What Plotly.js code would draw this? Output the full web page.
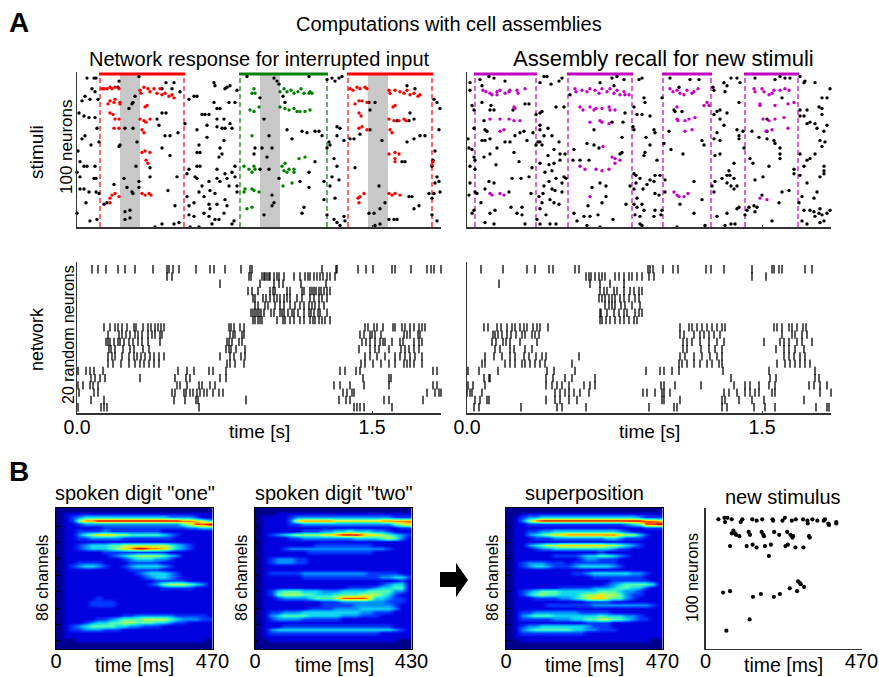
<!DOCTYPE html>
<html><head><meta charset="utf-8">
<script src="https://cdn.plot.ly/plotly-3.0.0.min.js"></script>
<style>html,body{margin:0;padding:0;background:#fff}#c{width:879px;height:677px}</style>
</head><body><div id="c"></div>
<script>
// time bins of the rasters (295 bins = 1.5 s)
const SEC_PER_BIN = 1.5/295;
const RASTER_BINS = 364;

// ---- upper left raster: stimuli, [bin, neuron]
const stimABlack = [[10,98],[17,98],[19,98],[15,91],[18,89],[5,83],[8,86],[13,84],[21,84],[2,75],[7,73],[12,72],[18,72],[20,65],[5,58],[8,60],[22,56],[14,54],[1,50],[3,43],[7,40],[10,40],[18,40],[0,36],[3,33],[17,32],[19,32],[3,25],[7,25],[12,23],[19,23],[22,22],[9,16],[0,9],[13,4],[20,5],
[42,96],[62,99],[41,92],[55,81],[56,82],[52,78],[58,86],[89,95],[97,95],[85,91],[95,91],[103,89],[85,75],[89,75],[80,71],[82,67],[101,62],[93,60],[88,60],[48,65],[56,65],[43,54],[42,53],[60,56],[85,52],[93,47],[59,40],[73,39],[100,33],[73,33],[47,32],[62,30],[37,28],[50,26],[62,26],[56,22],[55,23],[91,24],[98,14],[27,15],[30,16],[53,11],[48,10],[53,6],[48,5],[102,3],[97,2],[85,2],[78,0],
[117,86],[112,84],[120,86],[137,95],[138,93],[153,93],[148,91],[150,92],[160,90],[158,82],[152,82],[137,82],[140,78],[143,78],[125,74],[128,74],[132,74],[147,71],[140,71],[108,68],[130,67],[140,66],[145,65],[148,65],[153,68],[155,65],[120,64],[130,59],[147,57],[122,54],[120,49],[123,49],[143,52],[145,48],[142,46],[120,40],[112,38],[123,40],[140,38],[158,40],[155,36],[148,35],[118,33],[120,32],[110,35],[140,32],[158,33],[150,32],[143,30],[125,27],[132,30],[152,27],[160,27],[122,23],[133,24],[160,23],[110,20],[127,20],[138,22],[148,18],[132,15],[140,15],[117,16],[112,14],[150,14],[133,12],[112,8],[117,7],[127,9],[147,9],[132,7],[138,5],[142,5],[157,4],[155,2],[135,2],[122,0],[113,0],
[170,99],[197,98],[200,96],[202,94],[232,99],[183,85],[208,82],[206,86],[187,71],[192,60],[210,64],[215,58],[225,63],[230,62],[238,63],[242,63],[245,60],[178,52],[185,52],[195,52],[177,48],[190,46],[183,38],[192,38],[238,43],[232,36],[223,30],[232,26],[202,32],[195,21],[197,16],[195,14],[227,13],[225,9],[187,8],[247,18],[247,30],
[250,97],[255,98],[258,96],[262,98],[265,99],[250,52],[253,54],[257,45],[260,40],[260,66],[263,65],[260,60],[252,56],[262,31],[253,27],[258,19],[250,8],[257,5],[260,3],[263,1],[268,4],[267,7],[255,33],[267,57],
[298,82],[292,82],[330,93],[338,91],[293,77],[320,70],[333,75],[332,70],[337,71],[277,58],[273,58],[283,61],[293,64],[305,57],[330,56],[337,58],[348,60],[343,60],[278,39],[325,43],[328,43],[302,27],[297,9],[292,9],[303,12],[308,16],[303,2],[298,1],[312,5],[317,5],[320,5],[332,20],[335,20],[342,14],[337,12],[352,22],
[357,84],[360,82],[363,78],[362,64],[358,50],[356,44],[355,40],[360,33],[358,29],[362,30],[357,22],[363,23],[355,19],[360,4],[355,8]];
const stimARed = [[25,91],[27,91],[30,91],[33,92],[35,91],[38,92],[42,91],[63,90],[64,88],[67,92],[71,91],[73,89],[77,91],[80,88],[83,91],[85,87],[88,88],[92,86],[95,87],[97,85],
[31,81],[33,83],[37,82],[38,84],[43,81],[43,82],[68,79],[70,80],[33,75],[36,74],[38,71],[42,71],[63,71],[67,70],[69,69],[73,71],[37,65],[42,65],[65,64],[67,62],[65,49],[68,50],[73,49],[69,44],[71,42],[33,16],[33,19],[35,21],[38,22],[42,20],[65,22],[68,21],[72,22],[74,21],
[273,91],[276,90],[280,92],[283,91],[288,92],[290,91],[312,90],[313,88],[318,90],[323,89],[327,88],[330,90],[333,87],[337,88],[341,86],[343,87],[278,81],[282,83],[285,83],[290,82],[316,79],[318,80],[282,75],[284,73],[312,71],[317,70],[322,70],[327,71],[329,70],[282,65],[285,66],[290,64],[313,64],[315,62],[312,48],[318,49],[322,48],[318,45],[318,43],[282,16],[281,19],[283,20],[287,22],[312,22],[315,21],[318,22],[323,21],[355,41],[356,43]];
const stimAGreen = [[177,91],[178,88],[175,88],[203,89],[207,91],[210,89],[214,90],[217,88],[221,89],[224,91],[227,88],[232,88],[233,89],[235,88],[173,77],[177,76],[182,79],[203,79],[208,78],[212,77],[217,78],[220,76],[223,76],[228,76],[233,77],[175,60],[167,40],[172,38],[177,40],[178,38],[175,36],[205,40],[208,42],[207,37],[212,38],[210,36],[217,38],[217,36],[222,45],[228,46],[167,23],[168,25],[175,25],[177,24],[182,23],[206,27],[215,29],[170,12],[175,13]];

// ---- upper right raster: stimuli
const stimBBlack = [[3,95],[3,90],[5,80],[7,77],[7,65],[1,58],[2,52],[5,51],[7,46],[8,44],[8,38],[3,40],[3,29],[2,21],[8,23],[7,11],[5,9],
[13,97],[22,99],[27,98],[15,93],[38,96],[15,82],[24,80],[27,77],[23,77],[46,77],[58,81],[62,81],[17,70],[18,64],[20,63],[15,57],[18,57],[23,58],[38,56],[43,56],[48,60],[53,62],[57,63],[66,62],[60,57],[30,52],[47,49],[23,48],[17,46],[52,43],[29,41],[65,39],[45,32],[54,32],[62,33],[22,30],[27,29],[18,25],[42,23],[10,22],[14,16],[44,13],[55,13],[23,9],[28,11],[50,9],[55,8],[18,3],[27,2],[58,2],[64,22],
[77,99],[80,99],[73,95],[84,94],[92,96],[95,98],[75,76],[73,75],[69,74],[89,79],[97,79],[73,67],[81,65],[73,64],[77,60],[71,56],[73,56],[75,54],[92,56],[85,60],[69,54],[87,51],[81,47],[93,48],[98,48],[73,42],[82,41],[87,42],[93,44],[78,36],[85,37],[97,33],[99,32],[89,32],[82,30],[95,29],[77,27],[85,25],[88,24],[95,23],[76,22],[72,20],[83,18],[92,15],[87,16],[75,16],[73,12],[79,8],[70,5],[73,2],[83,2],[89,2],
[133,95],[145,98],[150,99],[157,97],[147,93],[103,87],[127,64],[120,55],[127,54],[132,52],[107,51],[155,59],[155,49],[153,48],[106,44],[113,44],[122,44],[125,26],[133,29],[139,27],[139,20],[135,16],[121,14],[159,15],[107,9],[117,7],[123,7],[131,8],[146,5],[110,4],[120,1],[133,0],[158,75],[156,69],[145,69],
[172,97],[175,98],[167,79],[170,74],[175,74],[183,73],[177,85],[178,82],[166,66],[167,64],[187,64],[188,62],[179,59],[183,54],[178,49],[177,47],[190,44],[167,35],[169,34],[173,32],[188,34],[193,34],[183,31],[187,30],[180,28],[169,29],[163,27],[167,25],[176,25],[188,22],[192,21],[170,19],[167,15],[170,13],[175,15],[177,11],[188,11],[195,11],[194,8],[168,8],[173,7],[187,7],[173,2],[175,1],
[203,98],[212,92],[223,97],[232,97],[195,85],[207,77],[208,76],[215,76],[202,63],[235,57],[237,54],[197,55],[204,51],[216,48],[198,31],[227,30],[198,23],[235,18],[213,15],[227,9],[210,0],[238,1],
[246,92],[247,90],[257,95],[260,93],[264,98],[270,98],[258,89],[273,95],[272,82],[250,76],[247,74],[253,71],[260,75],[253,77],[257,67],[250,62],[272,60],[276,63],[253,57],[247,58],[272,58],[270,64],[277,52],[248,47],[253,48],[267,42],[262,37],[260,34],[263,34],[255,32],[248,30],[267,32],[245,27],[260,29],[264,27],[270,27],[247,23],[267,25],[250,7],[270,12],[272,13],[260,9],[278,8],[258,1],[264,2],[268,2],
[288,98],[308,97],[313,99],[318,98],[323,98],[315,85],[300,71],[285,63],[300,63],[292,59],[300,58],[307,57],[308,55],[313,52],[313,48],[313,45],[283,45],[286,42],[302,40],[296,33],[288,31],[327,38],[327,35],[315,23],[322,24],[295,21],[312,16],[282,13],[287,14],[290,13],[280,11],[288,10],[305,4],
[333,99],[337,95],[348,95],[338,96],[352,79],[355,78],[360,85],[355,85],[363,91],[333,77],[340,77],[333,73],[337,73],[343,69],[340,68],[348,68],[355,74],[350,65],[360,67],[357,63],[353,57],[358,56],[355,53],[333,48],[340,44],[343,45],[348,48],[357,40],[357,37],[357,35],[353,33],[337,40],[333,34],[340,29],[350,23],[335,20],[347,19],[332,16],[337,11],[343,11],[347,10],[353,12],[352,9],[348,7],[355,8],[360,9],[363,11],[335,4],[340,2],[353,3],[357,4]];
const stimBMagenta = [[16,90],[19,89],[23,88],[25,87],[30,89],[33,90],[30,87],[38,88],[42,89],[43,90],[50,90],[51,88],[58,91],[47,79],[48,78],[23,71],[33,71],[42,71],[47,70],[53,70],[33,63],[37,64],[23,22],[25,21],[33,22],[37,21],
[108,91],[109,89],[115,90],[120,89],[123,91],[128,90],[132,88],[135,91],[140,89],[143,91],[147,88],[150,90],[153,87],[157,89],[158,87],[162,87],[113,79],[116,77],[123,79],[127,77],[129,78],[135,78],[142,79],[143,77],[148,77],[123,69],[133,70],[135,69],[142,68],[136,53],[145,46],[148,45],[148,42],[153,44],[113,40],[118,38],[129,38],[135,37],[142,38],[123,20],
[203,91],[206,89],[210,90],[213,88],[217,87],[220,90],[225,88],[227,89],[231,91],[210,79],[240,82],[237,80],[242,80],[210,71],[211,70],[218,70],[222,71],[228,72],[218,63],[225,64],[207,23],[210,21],[212,20],[217,20],[221,22],
[287,91],[288,89],[295,91],[297,89],[302,87],[305,88],[307,90],[313,90],[318,91],[322,90],[293,81],[293,80],[308,80],[321,81],[327,82],[296,71],[302,70],[308,71],[317,72],[299,63],[305,64],[321,65],[293,19],[300,18]];

// stimulus windows in bins: [start, end]
const stimAWindows = [[23,107],[163,250],[271,355]];
const stimAColours = ["#ff0000","#008000","#ff0000"];
const stimAGaps = [[43,63],[183,203],[291,311]];
const stimBWindows = [[8,69],[101,165],[196,244],[278,331]];

// ---- lower rasters, one list of spike bins per row, top row first
const netA = [
[15,21,29,41,48,58,76,90,92,96,102,119,133,137,148,164,173,175,245,259,260,281,289,296,315,318,334,350,354,357,364],
[90,95,172,174,185,187,188,190,192,193,197,200,202,207,217,223,228,231,233,237,240,243,246,250,253,258],
[143,183,197,202,206,224,249],
[171,175,181,193,196,198,210,213,225,227,233,235,237,239,242,244,247,250,253],
[176,178,186,189,193,197,200,203,207,210,213,220,225,233,237,242,245,250],
[178,181,188,191,198,203,207,213,218,223,227,232,235,238,242,247],
[174,176,178,180,182,184,187,194,197,203,205,207,211,215,217,221,227,232,234,237,241,243,250],
[176,178,181,183,185,200,206,208,213,217,223,227,233,236,238,242,245,248,253],
[27,33,38,41,45,50,57,59,66,71,74,78,81,84,87,152,154,157,163,167,288,291,297,300,306,316,318,325,328,333,337,342,345,348],
[31,42,45,49,53,58,61,65,71,75,78,83,85,153,156,158,165,167,283,287,293,295,298,304,327,330,333,341,343],
[29,31,33,37,41,43,47,52,56,61,65,71,83,150,152,155,162,165,285,289,293,298,303,306,308,315,323,326,337,342,345],
[32,34,38,46,53,57,66,72,149,152,154,159,168,282,293,298,302,312,324,328,332,337,342],
[31,35,38,45,52,57,60,64,68,73,77,82,87,143,153,157,164,168,288,293,300,308,318,323,328,333,338,345],
[31,36,44,52,58,63,67,72,77,82,150,153,158,167,284,288,296,304,312,318,327,330,333,337,345],
[1,9,13,17,26,101,110,117,132,136,149,263,268,279,283,356,360],
[14,18,23,28,63,98,109,113,143,149,286,312,314],
[1,6,13,16,21,100,103,110,122,125,133,138,257,263,273,287,312,356,360],
[2,17,21,95,98,107,109,113,116,120,123,127,130,136,142,146,266,270,275,277,350,358,362,364],
[14,27,97,108,119,121,169,262,269,273,307,312,346],
[1,24,27,30,122,277,280,283,287,315]];
const netB = [
[14,36,60,68,82,86,108,112,181,183,186,196,206,211,239,244,257,285,305,307,312,315,338,345],
[119,122,124,128,132,135,138,148,152,157,162,165,170,175,182,187,285,299],
[32,123,133,143,157],
[133,137,140,147,150,157,163,167,172,175],
[132,135,138,142,145,148,153,157,162,168,172],
[138,142,145,148,154,158,165,173],
[133,134,140,147,152,157,160,168,172,175],
[133,135,139,143,148,153,157,162,167,170],
[17,21,30,34,40,45,48,53,57,60,66,70,73,81,213,222,225,230,235,240,245,250,255,258,307,310,315,322,325,330,336,339],
[26,28,31,35,40,44,49,55,58,65,68,72,213,217,227,233,237,242,247,253,315,325,328,335,340],
[25,29,36,39,43,53,70,216,220,225,233,242,250,257,297,313,317,322,330,335,345],
[28,33,43,47,58,65,216,220,234,242,248,255,309,317,322,328,337],
[18,27,35,43,48,57,62,69,75,79,112,213,218,227,235,243,250,255,317,322,327,333,338],
[15,18,38,43,48,55,58,63,68,73,78,105,212,215,220,227,233,240,245,252,255,310,318,323,328,333,338,343],
[1,12,31,80,87,108,179,193,197,205,212,256,302,348],
[17,22,23,79,86,98,105,128,264,303,309,348,352],
[1,6,18,79,85,90,95,102,117,123,128,194,197,208,234,267,278,283,292,302,308,342,347,353,360],
[0,3,5,15,88,93,98,102,107,113,122,176,180,188,195,197,203,257,262,270,278,283,288,292,305,308,353,364],
[8,13,20,22,79,88,93,102,110,195,197,213,255,258,272,285,297,337],
[7,12,54,90,95,119,182,207,210,255,260,287,298,308,349,360,362]];

// ---- spectrogram intensities 0-9, top row first
const specOne = [
"000000000000000000000000","011111111111111111111111","012344444444444443333211","012688999999999999988764","011233333333333333356889",
"011111122222222222223344","011222232222222211111111","011356777665555543211111","011223333322222222111111","011111111111111111111111",
"011234445566666665432111","011234445678998876432111","011111122222222221111111","011111112345666654311111","011111111123444332111111",
"011222211112222211111111","012344321123444432111111","011111111112222211111111","011111111111234443211111","011111111111123443211111",
"011111111111111222221111","011111111111112356665431","011111111111111122222111","011111111111111111111111","011111111111111111111111",
"011111211111111111111111","011112222111111111111111","011112222111111111111111","011111111111111111111111","011111111111111111111111",
"011111111122333333222221","011111223455566665433322","011123445566555443221111","012345555443322211111111","012233322211111111111111",
"011111111111111111111111","011111111111111111111111","000111111111111111111110","000000000000000000000000","000000000000000000000000"];
const specTwo = [
"000000000000000000000000","000111111111111111111111","011112333333333333333222","011113788888777777788888","011112233333333333333567",
"011111111111111111111122","011111122233445444332111","012345666677899987765432","011112233333333444456531","011111111111111111111111",
"011111111222222222111111","011123333333333333332111","011111112222222222111111","011111111111111111111111","012333221111111111111111",
"012333221111111111111111","011111111111111111111111","011111111111111111111111","012222233333333332222211","011111122222222222233442",
"011111111111111111111121","011111111111111111123441","011111111111112222344551","012455544433344445555331","012566655444555566654211",
"011233334555688887443221","011111111122233333332221","011111111122222333333211","011111112222333344444311","012233344444444433222111",
"013455554444433322211111","012333322222211111111111","011111111111111111111111","011122222222222222222111","013444444444444444444321",
"012222222222222222211111","011111111111111111111111","001111111111111111111100","000000000000000000000000","000000000000000000000000"];
const specSum = [
"000000000000000000000000","001111111111111111111111","012334444444444444443222","013689999999999999999887","011222222222222222345889",
"011111111111111111111222","011223344444444443211111","011345677888888887664211","011122233333333443222111","011111111111111111111111",
"011345667777777665432111","011123344444444432211111","011111111111112111111111","011111122223445543211111","011111111112332221111111",
"012333222122222221111111","012344322234444432111111","011111111111111111111111","011111111122344444433211","011111111111122222222111",
"011111111111111122222211","011111111111111234555541","011111112222233345544211","012345554444445554332111","012456554445667665322111",
"011122223345677655321111","011111111111222211111111","011111222222233333333321","011111111111111111111111","012233333332222211111111",
"013455544444445444332111","012222233344556655432211","011111111111222211111111","012334444444322211111111","013455555544332221111111",
"012222222222111111111111","011111111111111111111111","001111111111111111111100","000000000000000000000000","000000000000000000000000"];

// ---- new stimulus raster: [ms, neuron]
const newStimulus = [[39,92],[57,93],[59,90],[66,93],[79,92],[106,90],[111,92],[141,92],[154,91],[171,92],[202,92],[204,91],[232,91],[239,93],[260,91],[272,92],[294,92],[307,91],[308,89],[322,92],[337,91],[356,91],[360,92],[370,89],[372,88],[394,89],[394,90],
[84,84],[79,82],[89,82],[92,81],[102,80],[130,83],[134,81],[169,83],[174,81],[176,80],[207,83],[222,81],[246,83],[256,81],[264,80],[262,79],[312,80],[314,79],
[74,73],[124,73],[142,74],[154,72],[179,73],[197,74],[191,66],[241,73],[248,74],[271,72],[295,72],
[279,48],[284,47],[287,46],[297,44],[276,41],[254,43],[224,39],[206,37],[167,39],[143,37],[74,41],[53,40],[133,21],[63,13]];

// labels
const xTicksNet = [0,1.5], xTickTextNet = ["0.0","1.5"];
const titleMain = "Computations with cell assemblies";
const titleLeft = "Network response for interrupted input";
const titleRight = "Assembly recall for new stimuli";
const jetScale = [[0,"#00008c"],[0.111,"#0000e0"],[0.222,"#0038ff"],[0.333,"#0090ff"],[0.444,"#10d8f0"],[0.556,"#50ffb0"],[0.667,"#b0ff50"],[0.778,"#ffe000"],[0.889,"#ff5000"],[1,"#a00000"]];

// ---- page geometry
const W=879,H=677,FONT="Liberation Sans, Arial, sans-serif",AXC="#333";
const xd=(a,b)=>[a/W,b/W], yd=(t,b)=>[1-b/H,1-t/H];
const sec=b=>b*SEC_PER_BIN;
const traces=[],shapes=[],annotations=[];

function dots(list,xa,ya,color,size,convert){
  traces.push({type:"scatter",mode:"markers",xaxis:xa,yaxis:ya,hoverinfo:"skip",cliponaxis:false,
    x:list.map(p=>convert?sec(p[0]):p[0]),y:list.map(p=>p[1]),
    marker:{color:color,size:size,line:{width:0}}});
}
function stimDecor(windows,colours,xa,ya){
  windows.forEach((w,i)=>{
    const c=colours[i%colours.length];
    traces.push({type:"scatter",mode:"lines",xaxis:xa,yaxis:ya,hoverinfo:"skip",cliponaxis:false,
      x:[sec(w[0]-1),sec(w[1]+1)],y:[100.7,100.7],line:{color:c,width:3}});
    w.forEach(e=>traces.push({type:"scatter",mode:"lines",xaxis:xa,yaxis:ya,hoverinfo:"skip",
      x:[sec(e),sec(e)],y:[0,100],line:{color:c,width:1.2,dash:"5px,3px"}}));
  });
}
stimAGaps.forEach(g=>shapes.push({type:"rect",layer:"below",xref:"x",yref:"y",x0:sec(g[0]),x1:sec(g[1]),y0:0,y1:100,fillcolor:"#c8c8c8",line:{width:0}}));
stimDecor(stimAWindows,stimAColours,"x","y");
dots(stimABlack,"x","y","#000",3.4,true);
dots(stimARed,"x","y","#ff0000",3.4,true);
dots(stimAGreen,"x","y","#008000",3.4,true);
stimDecor(stimBWindows,["#c000c0"],"x2","y2");
dots(stimBBlack,"x2","y2","#000",3.4,true);
dots(stimBMagenta,"x2","y2","#c800c8",3.4,true);

function raster(rows,xa,ya){
  const xs=[],ys=[];
  rows.forEach((r,i)=>r.forEach(t=>{xs.push(sec(t));ys.push(20-i);}));
  traces.push({type:"scatter",mode:"markers",xaxis:xa,yaxis:ya,hoverinfo:"skip",cliponaxis:false,x:xs,y:ys,
    marker:{symbol:"line-ns",size:6,color:"#000",line:{width:1.3,color:"#000"}}});
}
raster(netA,"x3","y3");
raster(netB,"x4","y4");

function spec(rows,maxMs,xa,ya){
  const z=rows.map(r=>r.split("").map(Number));
  const dx=maxMs/z[0].length, dy=86/z.length;
  traces.push({type:"heatmap",xaxis:xa,yaxis:ya,z:z,x0:dx/2,dx:dx,y0:86-dy/2,dy:-dy,zmin:0,zmax:9,zsmooth:"best",
    colorscale:jetScale,showscale:false,hoverinfo:"skip"});
}
spec(specOne,470,"x5","y5");
spec(specTwo,430,"x6","y6");
spec(specSum,470,"x7","y7");
dots(newStimulus,"x8","y8","#000",4.2,false);

const base={showgrid:false,zeroline:false,fixedrange:true};
const lblFont={family:FONT,size:19.5,color:"#000"};
function xRaster(dom,ya){return {...base,anchor:ya,domain:dom,range:[0,sec(RASTER_BINS)],showline:true,linecolor:AXC,linewidth:1.5,ticks:"inside",ticklen:2,tickcolor:AXC,
  tickvals:xTicksNet,ticktext:xTickTextNet,showticklabels:false,tickfont:lblFont};}
function xLow(dom,ya){return {...xRaster(dom,ya),showticklabels:true,ticklabelstandoff:-4};}
function yPlain(dom,range,xa){return {...base,anchor:xa,domain:dom,range:range,showline:true,linecolor:AXC,linewidth:1.5,ticks:"",showticklabels:false};}
function xMs(dom,max,frame,ya){return {...base,anchor:ya,domain:dom,range:[0,max],showline:true,mirror:frame,linecolor:frame?"#000":AXC,linewidth:1,ticks:"inside",ticklen:frame?0:3,tickcolor:AXC,
  tickvals:[0,max],ticktext:["0",String(max)],tickfont:{family:FONT,size:20,color:"#000"},ticklabelstandoff:-6};}
function ySpec(dom,xa){return {...base,anchor:xa,domain:dom,range:[0,86],showline:true,mirror:true,linecolor:"#000",linewidth:1,ticks:"inside",ticklen:3,tickcolor:"#000",
  tickvals:[5,15,25,35,45,55,65,75],showticklabels:false};}

function label(text,x,y,size,opt){annotations.push({text:text,xref:"paper",yref:"paper",x:x/W,y:1-y/H,xanchor:"center",yanchor:"middle",showarrow:false,
  font:{family:FONT,size:size,color:"#000"},...(opt||{})});}
label("<b>A</b>",19,22,28);
label("<b>B</b>",19,471,28);
label(titleMain,449,24,20);
label(titleLeft,259,59,20);
label(titleRight,663,59,22);
label("stimuli",37,152,19,{textangle:-90});
label("100 neurons",67,147,17,{textangle:-90});
label("network",37,339,18,{textangle:-90});
label("20 random neurons",68,335,16,{textangle:-90});
label("time [s]",259,431,19);
label("time [s]",649,431,19);
label('spoken digit "one"',135,493,20);
label('spoken digit "two"',334,493,20);
label("superposition",584,493,20);
label("new stimulus",783,497,20);
[[42,134],[241,334],[492,584]].forEach(p=>{label("86 channels",p[0],578,16,{textangle:-90});label("time [ms]",p[1],665,19.5);});
label("100 neurons",692,578,16,{textangle:-90});
label("time [ms]",783,665,19.5);
shapes.push({type:"path",xref:"paper",yref:"paper",fillcolor:"#000",line:{width:0},
  path:`M${440/W},${1-572/H} L${456/W},${1-572/H} L${456/W},${1-563/H} L${468/W},${1-580/H} L${456/W},${1-597/H} L${456/W},${1-587/H} L${440/W},${1-587/H} Z`});

const layout={width:W,height:H,margin:{l:0,r:0,t:0,b:0,pad:0},paper_bgcolor:"#fff",plot_bgcolor:"rgba(0,0,0,0)",showlegend:false,
  font:{family:FONT,color:"#000"},shapes:shapes,annotations:annotations,
  xaxis:xRaster(xd(77,441),"y"),yaxis:yPlain(yd(72,227),[0,102],"x"),
  xaxis2:xRaster(xd(467,831),"y2"),yaxis2:yPlain(yd(72,227),[0,102],"x2"),
  xaxis3:xLow(xd(77,441),"y3"),yaxis3:yPlain(yd(262,413),[0.2,21],"x3"),
  xaxis4:xLow(xd(467,831),"y4"),yaxis4:yPlain(yd(262,413),[0.2,21],"x4"),
  xaxis5:xMs(xd(56,212.5),470,true,"y5"),yaxis5:ySpec(yd(508,649),"x5"),
  xaxis6:xMs(xd(255,411.5),430,true,"y6"),yaxis6:ySpec(yd(508,649),"x6"),
  xaxis7:xMs(xd(506,662.5),470,true,"y7"),yaxis7:ySpec(yd(508,649),"x7"),
  xaxis8:xMs(xd(705.5,861.5),470,false,"y8"),yaxis8:yPlain(yd(508,649),[0,100],"x8")};
Plotly.newPlot("c",traces,layout,{displayModeBar:false,responsive:false,staticPlot:true});
</script></body></html>
